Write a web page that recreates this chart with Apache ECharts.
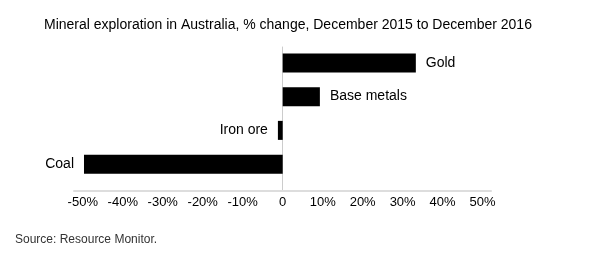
<!DOCTYPE html>
<html>
<head>
<meta charset="utf-8">
<script src="https://cdn.jsdelivr.net/npm/echarts@6/dist/echarts.min.js"></script>
<style>
html,body{margin:0;padding:0;background:#fff;}
#chart{width:596px;height:260px;}
</style>
</head>
<body>
<div id="chart"></div>
<script>
const categories = ['Coal', 'Iron ore', 'Base metals', 'Gold'];
const values = [-49.7, -1.2, 9.3, 33.3];
const tickValues = [-50, -40, -30, -20, -10, 0, 10, 20, 30, 40, 50];
const titleText = 'Mineral exploration in Australia, % change, December 2015 to December 2016';
const sourceText = 'Source: Resource Monitor.';

const FONT = '"Liberation Sans", Arial, sans-serif';
const X_MIN = -52.2, X_MAX = 52.1;

const chart = echarts.init(document.getElementById('chart'), null, {renderer: 'canvas'});
chart.setOption({
  animation: false,
  backgroundColor: '#fff',
  title: [
    {text: titleText, left: 39, top: 13, textStyle: {fontFamily: FONT, fontSize: 14, fontWeight: 'normal', color: '#000'}},
    {text: sourceText, left: 10, top: 229, textStyle: {fontFamily: FONT, fontSize: 12, fontWeight: 'normal', color: '#333'}}
  ],
  grid: [
    {left: 74, right: 105, top: 46, height: 135},
    {left: 74, right: 105, top: 47, bottom: 69}
  ],
  xAxis: [
    {type: 'value', gridIndex: 0, min: X_MIN, max: X_MAX, show: false},
    {type: 'value', gridIndex: 1, min: X_MIN, max: X_MAX,
     axisLine: {show: true, onZero: false, lineStyle: {color: '#dddddd', width: 2}},
     axisTick: {show: false},
     splitLine: {show: false},
     axisLabel: {
       customValues: tickValues,
       margin: 5,
       fontFamily: FONT, fontSize: 13, color: '#000',
       formatter: v => v === 0 ? '0' : v + '%'
     }}
  ],
  yAxis: [
    {type: 'category', gridIndex: 0, data: categories, show: false},
    {type: 'value', gridIndex: 1, min: 0, max: 1,
     axisLine: {show: true, onZero: true, lineStyle: {color: '#cccccc', width: 1}},
     axisTick: {show: false}, axisLabel: {show: false}, splitLine: {show: false}}
  ],
  series: [{
    type: 'bar',
    xAxisIndex: 0, yAxisIndex: 0,
    barWidth: 19,
    z: 3,
    itemStyle: {color: '#000'},
    data: values.map(v => ({
      value: v,
      label: {
        show: true,
        position: v < 0 ? 'left' : 'right',
        distance: 10,
        formatter: p => categories[p.dataIndex],
        fontFamily: FONT, fontSize: 14, color: '#000'
      }
    }))
  }]
});
</script>
</body>
</html>
